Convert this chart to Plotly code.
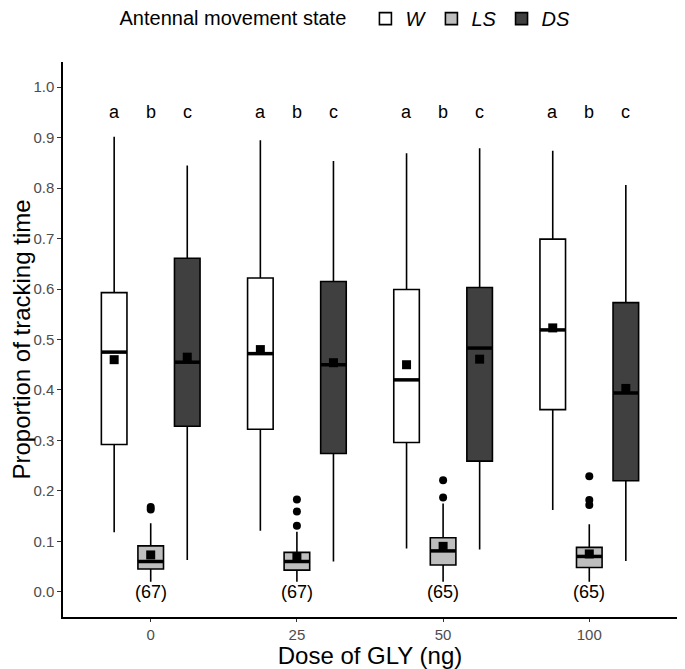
import plotly.graph_objects as go

doses = ["0", "25", "50", "100"]
states = ["W", "LS", "DS"]

# per state: values for doses 0, 25, 50, 100
q1 = {"W": [0.292, 0.322, 0.296, 0.361],
      "LS": [0.045, 0.043, 0.053, 0.048],
      "DS": [0.328, 0.274, 0.259, 0.220]}
median = {"W": [0.475, 0.472, 0.420, 0.519],
          "LS": [0.060, 0.060, 0.081, 0.070],
          "DS": [0.455, 0.450, 0.483, 0.394]}
q3 = {"W": [0.593, 0.622, 0.599, 0.699],
      "LS": [0.091, 0.078, 0.107, 0.088],
      "DS": [0.661, 0.615, 0.603, 0.573]}
lowerfence = {"W": [0.118, 0.121, 0.086, 0.162],
              "LS": [0.020, 0.020, 0.020, 0.020],
              "DS": [0.063, 0.060, 0.084, 0.061]}
upperfence = {"W": [0.902, 0.895, 0.869, 0.874],
              "LS": [0.136, 0.119, 0.175, 0.134],
              "DS": [0.845, 0.854, 0.879, 0.806]}
means = {"W": [0.460, 0.480, 0.450, 0.523],
         "LS": [0.073, 0.068, 0.090, 0.075],
         "DS": [0.465, 0.454, 0.461, 0.403]}
outliers = {"W": [[], [], [], []],
            "LS": [[0.163, 0.168], [0.131, 0.159, 0.183], [0.187, 0.221], [0.172, 0.182, 0.229]],
            "DS": [[], [], [], []]}
letters = {"W": "a", "LS": "b", "DS": "c"}
n_labels = ["(67)", "(67)", "(65)", "(65)"]

colors = {"W": "#FFFFFF", "LS": "#BEBEBE", "DS": "#404040"}
offsets = {"W": -0.25, "LS": 0.0, "DS": 0.25}
box_w = 0.175
letter_y = 0.95
font = "Liberation Sans"

fig = go.Figure()
for s in states:
    xs = [i + offsets[s] for i in range(len(doses))]
    fig.add_trace(go.Box(
        x=xs, q1=q1[s], median=median[s], q3=q3[s],
        lowerfence=lowerfence[s], upperfence=upperfence[s],
        width=box_w, whiskerwidth=0, fillcolor=colors[s],
        line=dict(color="black", width=1.6),
        name="<i>%s</i>" % s, boxpoints=False, hoverinfo="skip",
    ))
for s in states:
    xs = [i + offsets[s] for i in range(len(doses))]
    # thick median lines
    mx, my = [], []
    for x, m in zip(xs, median[s]):
        mx += [x - box_w / 2, x + box_w / 2, None]
        my += [m, m, None]
    fig.add_trace(go.Scatter(x=mx, y=my, mode="lines",
                             line=dict(color="black", width=3.5),
                             showlegend=False, hoverinfo="skip"))
    # outliers
    ox, oy = [], []
    for x, outs in zip(xs, outliers[s]):
        ox += [x] * len(outs)
        oy += outs
    if ox:
        fig.add_trace(go.Scatter(x=ox, y=oy, mode="markers",
                                 marker=dict(color="black", size=8, symbol="circle"),
                                 showlegend=False, hoverinfo="skip"))
    # means
    fig.add_trace(go.Scatter(x=xs, y=means[s], mode="markers",
                             marker=dict(color="black", size=9, symbol="square"),
                             showlegend=False, hoverinfo="skip"))
    for x in xs:
        fig.add_annotation(x=x, y=letter_y, text=letters[s], showarrow=False,
                           font=dict(family=font, size=18, color="black"))

for i, lab in enumerate(n_labels):
    fig.add_annotation(x=i, y=0, text=lab, showarrow=False,
                       font=dict(family=font, size=18, color="black"))

fig.update_layout(
    width=677, height=661,
    margin=dict(l=55, r=8, t=54, b=52, autoexpand=False),
    plot_bgcolor="white", paper_bgcolor="white",
    font=dict(family=font, color="black"),
    boxmode="overlay",
    legend=dict(orientation="h", x=0.5, xanchor="center", xref="container",
                y=0.984, yanchor="middle", yref="container",
                title=dict(text="Antennal movement state  ", font=dict(size=20)),
                font=dict(size=20), itemwidth=30),
    xaxis=dict(range=[-0.6, 3.6], tickmode="array",
               tickvals=list(range(len(doses))), ticktext=doses,
               showline=True, linecolor="black", linewidth=1.5,
               ticks="outside", ticklen=3, tickcolor="#333333",
               tickfont=dict(size=15, color="#4D4D4D"),
               showgrid=False, zeroline=False,
               title=dict(text="Dose of GLY (ng)", font=dict(size=24), standoff=0)),
    yaxis=dict(range=[-0.05, 1.05], tickmode="array",
               tickvals=[i / 10 for i in range(11)],
               ticktext=["%.1f" % (i / 10) for i in range(11)],
               showline=True, linecolor="black", linewidth=1.5,
               ticks="outside", ticklen=4, tickcolor="#333333",
               tickfont=dict(size=15, color="#4D4D4D"),
               showgrid=False, zeroline=False,
               title=dict(text="Proportion of tracking time", font=dict(size=24), standoff=2)),
)
fig.write_html("out.html")
